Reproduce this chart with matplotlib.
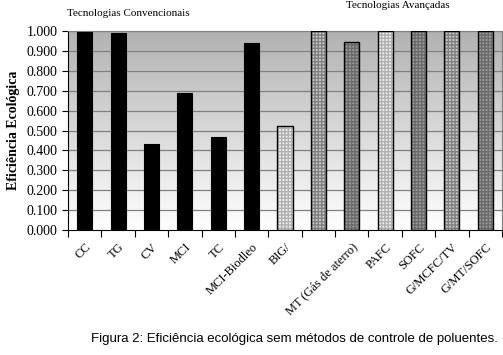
"""
Eficiência ecológica sem métodos de controle de poluentes (Figura 2).
"""
import numpy as np
import matplotlib
matplotlib.use('Agg')
import matplotlib.pyplot as plt

# Data
categories = ['CC', 'TG', 'CV', 'MCI', 'TC', 'MCI-Biodleo', 'BIG/', '',
              'MT (Gás de aterro)', 'PAFC', 'SOFC', 'G/MCFC/TV', 'G/MT/SOFC']
values = [0.995, 0.990, 0.430, 0.690, 0.468, 0.942, 0.522, 1.000,
          0.945, 1.000, 1.000, 1.000, 1.000]
# fill style per bar: black, light, medium, dark
styles = ['black'] * 6 + ['light', 'medium', 'dark', 'light', 'dark', 'medium', 'dark']
yticks = np.arange(0, 1.01, 0.1)

fills = {
    'black': ('#000000', '#202020'),
    'light': ('#eeeeee', '#b0b0b0'),
    'medium': ('#c8c8c8', '#808080'),
    'dark': ('#9a9a9a', '#6a6a6a'),
}

W, H = 503, 355
fig = plt.figure(figsize=(W / 100, H / 100), dpi=100)
fig.patch.set_facecolor('white')
ax = fig.add_axes([68 / W, (H - 230) / H, 434 / W, 199 / H])

x = np.arange(len(categories))
ax.set_xlim(-0.5, len(categories) - 0.5)
ax.set_ylim(0, 1.0)

# gradient background (grey at top, white at bottom)
grad = np.linspace(1.0, 0.0, 256).reshape(-1, 1)
bg = plt.cm.colors.LinearSegmentedColormap.from_list('bg', ['#ffffff', '#b2b2b2'])
ax.imshow(grad, aspect='auto', cmap=bg, extent=[-0.5, len(categories) - 0.5, 0, 1.0],
          origin='upper', zorder=0)

for yv in yticks[1:]:
    ax.axhline(yv, color='#808080', lw=0.9, zorder=1)

# bars
for xi, v, s in zip(x, values, styles):
    fc, hc = fills[s]
    if s == 'black':
        ax.bar(xi, v, width=0.45, color=fc, edgecolor='black', lw=0.8, zorder=3)
    else:
        ax.bar(xi, v, width=0.45, color=fc, edgecolor=hc, lw=0, hatch='+++++', zorder=3)
        ax.bar(xi, v, width=0.45, fill=False, edgecolor='black', lw=1.0, zorder=4)

# axes styling
for side in ['top', 'right']:
    ax.spines[side].set_color('#808080')
ax.spines['left'].set_color('black')
ax.spines['bottom'].set_color('black')

ax.set_yticks(yticks)
ax.set_yticklabels([f'{t:.3f}' for t in yticks], fontfamily='Liberation Serif', fontsize=10)
ax.tick_params(axis='y', direction='out', length=4, width=0.8)

ax.set_xticks(x)
ax.set_xticklabels(categories, rotation=45, ha='right', rotation_mode='anchor',
                   fontfamily='Liberation Serif', fontsize=9)
ax.tick_params(axis='x', which='major', length=0, pad=8)
ax.set_xticks(np.arange(-0.5, len(categories)), minor=True)
ax.tick_params(axis='x', which='minor', direction='out', length=5, width=0.8)

ax.set_ylabel('Eficiência Ecológica', fontfamily='Liberation Serif', fontsize=10,
              fontweight='bold', labelpad=5)

fig.text(67 / W, 1 - 13 / H, 'Tecnologias Convencionais', fontfamily='Liberation Serif',
         fontsize=8, ha='left', va='center')
fig.text(398 / W, 1 - 5 / H, 'Tecnologias Avançadas', fontfamily='Liberation Serif',
         fontsize=8, ha='center', va='center')
fig.text(294 / W, 1 - 339 / H,
         'Figura 2: Eficiência ecológica sem métodos de controle de poluentes.',
         fontfamily='Liberation Sans', fontsize=9.5, ha='center', va='center')

plt.savefig('out.png', dpi=100, facecolor='white')
